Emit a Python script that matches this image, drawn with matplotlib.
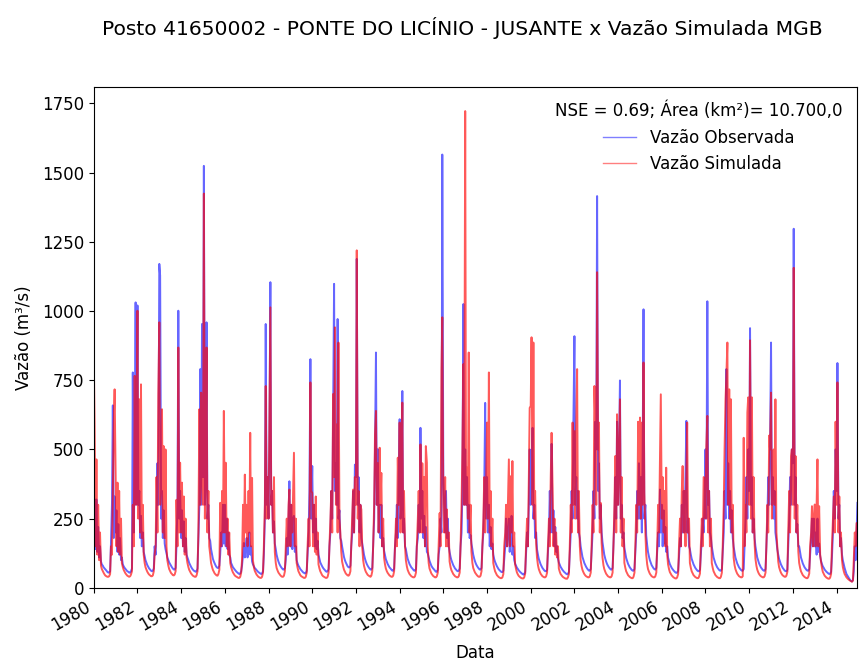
import pandas as pd
import matplotlib
matplotlib.use('Agg')
import matplotlib.pyplot as plt
import matplotlib.dates as mdates

ano_inicial = 1980

vazao_obs = [
    [190, 320, 140, 319, 130, 220, 110, 150, 95, 85, 80, 74, 70, 66, 62, 58, 55, 55, 60, 160, 307, 659, 180, 330],
    [200, 280, 130, 230, 120, 180, 100, 110, 85, 78, 72, 68, 64, 60, 58, 55, 55, 60, 70, 778, 200, 450, 1031, 300],
    [1020, 300, 350, 180, 260, 150, 200, 130, 115, 100, 90, 82, 76, 70, 66, 62, 60, 62, 70, 150, 120, 250, 450, 300],
    [1170, 1128, 250, 350, 180, 280, 160, 140, 125, 110, 100, 92, 86, 80, 74, 70, 66, 66, 72, 150, 300, 1001, 250, 350],
    [180, 280, 150, 240, 130, 180, 120, 110, 100, 90, 82, 76, 70, 66, 62, 60, 58, 60, 70, 180, 300, 790, 300, 953],
    [400, 1524, 300, 400, 959, 250, 300, 180, 170, 140, 120, 105, 95, 88, 80, 75, 72, 72, 80, 120, 200, 150, 300, 160],
    [300, 150, 250, 140, 200, 120, 110, 90, 82, 75, 70, 66, 62, 58, 55, 52, 50, 52, 60, 80, 120, 162, 110, 150],
    [180, 110, 170, 200, 120, 150, 95, 85, 78, 72, 68, 64, 60, 57, 54, 52, 50, 52, 60, 120, 250, 953, 300, 400],
    [250, 500, 1104, 300, 350, 200, 240, 160, 140, 120, 105, 95, 86, 80, 74, 70, 66, 66, 72, 100, 180, 120, 250, 385],
    [150, 300, 140, 250, 260, 130, 150, 100, 88, 80, 74, 68, 64, 60, 56, 54, 52, 54, 62, 120, 200, 350, 826, 250],
    [440, 200, 300, 150, 250, 140, 170, 120, 105, 92, 84, 78, 72, 68, 64, 60, 58, 60, 68, 150, 200, 350, 250, 600],
    [1098, 350, 450, 300, 971, 250, 280, 180, 170, 150, 130, 112, 100, 92, 84, 78, 74, 74, 80, 150, 200, 350, 200, 445],
    [400, 1188, 300, 400, 200, 300, 180, 160, 140, 120, 105, 95, 86, 80, 74, 70, 66, 66, 72, 150, 250, 500, 850, 300],
    [500, 200, 300, 180, 300, 150, 180, 135, 118, 104, 94, 86, 80, 74, 70, 66, 62, 62, 70, 150, 200, 300, 180, 400],
    [609, 250, 300, 711, 200, 250, 150, 140, 120, 105, 94, 86, 80, 74, 70, 66, 62, 62, 68, 150, 180, 300, 200, 578],
    [250, 350, 180, 260, 150, 220, 130, 125, 110, 98, 88, 80, 74, 70, 66, 62, 58, 58, 65, 120, 150, 250, 200, 1565],
    [400, 300, 200, 350, 180, 250, 150, 130, 112, 100, 90, 82, 76, 70, 66, 62, 60, 62, 70, 150, 200, 350, 1025, 300],
    [500, 300, 400, 200, 300, 180, 190, 160, 140, 120, 105, 95, 86, 80, 74, 70, 66, 66, 72, 150, 200, 350, 668, 250],
    [400, 200, 300, 150, 220, 140, 160, 120, 104, 94, 85, 78, 72, 67, 63, 60, 57, 57, 62, 100, 150, 250, 150, 200],
    [250, 130, 180, 260, 120, 150, 100, 88, 80, 73, 68, 63, 59, 56, 53, 50, 48, 50, 58, 120, 200, 150, 300, 500],
    [300, 400, 578, 250, 300, 180, 200, 140, 120, 105, 94, 85, 78, 72, 67, 63, 60, 60, 66, 130, 200, 350, 200, 520],
    [200, 280, 150, 220, 130, 150, 105, 92, 83, 76, 70, 65, 61, 57, 54, 51, 49, 51, 58, 120, 200, 350, 250, 600],
    [909, 300, 400, 250, 350, 200, 180, 150, 130, 112, 100, 90, 82, 76, 70, 66, 62, 62, 68, 130, 200, 350, 250, 600],
    [500, 1415, 350, 450, 250, 300, 200, 165, 140, 120, 105, 95, 86, 80, 74, 70, 66, 66, 72, 150, 250, 400, 250, 600],
    [300, 450, 749, 250, 300, 180, 200, 145, 125, 108, 96, 87, 80, 74, 69, 65, 62, 62, 68, 130, 200, 350, 250, 450],
    [250, 400, 200, 500, 1006, 250, 300, 190, 155, 130, 112, 100, 90, 82, 76, 71, 67, 66, 72, 130, 200, 150, 355, 200],
    [300, 150, 280, 160, 220, 130, 150, 110, 96, 86, 78, 72, 67, 63, 59, 56, 54, 55, 62, 110, 180, 150, 300, 200],
    [350, 200, 400, 603, 200, 250, 150, 140, 120, 105, 94, 85, 78, 72, 67, 63, 60, 60, 66, 120, 180, 250, 200, 300],
    [500, 250, 1035, 300, 350, 200, 180, 150, 128, 110, 98, 88, 80, 74, 69, 65, 62, 62, 68, 130, 200, 350, 250, 790],
    [300, 450, 250, 350, 200, 280, 180, 150, 128, 110, 98, 88, 80, 74, 69, 65, 62, 62, 68, 150, 250, 400, 250, 500],
    [350, 938, 300, 400, 200, 250, 180, 150, 128, 110, 98, 88, 80, 74, 69, 65, 62, 62, 68, 150, 250, 400, 300, 500],
    [886, 300, 400, 250, 350, 200, 170, 140, 120, 105, 94, 85, 78, 72, 67, 63, 60, 60, 66, 150, 250, 400, 300, 500],
    [450, 1297, 300, 400, 200, 230, 150, 150, 128, 110, 98, 88, 80, 74, 69, 65, 62, 62, 68, 120, 180, 250, 150, 250],
    [150, 200, 120, 250, 130, 160, 115, 98, 86, 78, 72, 66, 62, 58, 55, 52, 50, 51, 58, 110, 200, 350, 250, 500],
    [350, 812, 250, 300, 150, 180, 120, 100, 85, 72, 60, 50, 44, 38, 33, 28, 25, 23, 28, 60, 150, 100, 200, 307],
]

vazao_sim = [
    [844, 593, 150, 464, 120, 300, 100, 200, 80, 68, 60, 54, 48, 44, 42, 40, 40, 42, 50, 150, 120, 350, 597, 717],
    [400, 150, 380, 130, 350, 120, 250, 90, 75, 65, 58, 52, 48, 44, 42, 40, 42, 48, 60, 300, 150, 766, 300, 550],
    [1001, 250, 681, 200, 735, 180, 300, 120, 90, 75, 65, 58, 52, 48, 45, 42, 42, 45, 60, 120, 150, 400, 200, 700],
    [959, 300, 400, 645, 200, 512, 180, 500, 150, 100, 80, 68, 60, 54, 50, 46, 45, 48, 60, 318, 150, 868, 200, 452],
    [200, 380, 150, 330, 120, 250, 110, 90, 75, 65, 58, 52, 48, 44, 42, 40, 40, 45, 60, 200, 645, 300, 705, 400],
    [300, 1424, 250, 500, 868, 200, 350, 150, 120, 90, 75, 65, 58, 52, 48, 45, 44, 50, 65, 307, 150, 350, 200, 639],
    [200, 452, 150, 250, 120, 200, 90, 75, 64, 56, 50, 45, 42, 40, 38, 36, 36, 40, 55, 100, 300, 150, 409, 200],
    [300, 150, 350, 200, 560, 150, 397, 100, 75, 62, 54, 48, 44, 40, 38, 36, 36, 40, 55, 150, 300, 729, 250, 400],
    [250, 597, 1013, 300, 350, 200, 400, 130, 90, 72, 62, 55, 50, 46, 42, 40, 40, 44, 60, 150, 250, 150, 300, 355],
    [150, 300, 200, 350, 488, 150, 250, 90, 72, 60, 52, 46, 42, 40, 38, 36, 36, 40, 55, 150, 250, 150, 742, 350],
    [343, 150, 300, 130, 330, 120, 200, 85, 70, 60, 52, 46, 42, 40, 38, 36, 36, 40, 55, 150, 250, 350, 200, 700],
    [400, 941, 300, 590, 200, 886, 250, 200, 130, 95, 78, 66, 58, 52, 48, 45, 44, 48, 60, 150, 250, 355, 200, 400],
    [300, 1219, 250, 350, 150, 300, 283, 150, 100, 80, 66, 58, 52, 47, 44, 42, 40, 44, 60, 150, 300, 554, 639, 300],
    [450, 200, 506, 300, 415, 150, 250, 110, 85, 70, 60, 54, 49, 45, 42, 40, 40, 44, 60, 150, 250, 150, 470, 300],
    [597, 200, 400, 669, 200, 350, 150, 100, 78, 65, 56, 50, 46, 42, 40, 38, 38, 42, 55, 150, 250, 350, 200, 518],
    [200, 450, 200, 400, 150, 512, 452, 150, 90, 70, 60, 52, 47, 43, 40, 38, 38, 42, 55, 150, 270, 150, 790, 977],
    [300, 200, 400, 150, 283, 150, 200, 95, 75, 64, 56, 50, 46, 42, 40, 38, 38, 42, 55, 150, 300, 500, 808, 300],
    [1722, 300, 434, 250, 850, 200, 300, 130, 90, 72, 62, 55, 50, 46, 42, 40, 40, 44, 60, 150, 250, 400, 200, 350],
    [597, 250, 778, 200, 350, 150, 250, 90, 72, 60, 52, 46, 42, 39, 37, 35, 35, 38, 50, 150, 200, 300, 150, 300],
    [464, 150, 403, 200, 458, 150, 200, 85, 68, 56, 48, 43, 40, 37, 35, 34, 34, 38, 52, 150, 250, 150, 400, 650],
    [657, 905, 300, 886, 250, 350, 160, 110, 82, 68, 58, 51, 46, 42, 40, 38, 38, 42, 55, 150, 250, 150, 400, 560],
    [361, 150, 250, 120, 200, 110, 150, 70, 58, 50, 45, 41, 38, 36, 34, 33, 33, 38, 50, 150, 300, 200, 597, 300],
    [566, 250, 597, 790, 200, 350, 150, 100, 78, 65, 56, 50, 45, 42, 40, 38, 38, 42, 55, 150, 300, 200, 729, 597],
    [300, 1140, 500, 597, 200, 307, 160, 110, 82, 68, 58, 51, 46, 42, 40, 38, 38, 42, 55, 150, 300, 476, 200, 627],
    [300, 450, 681, 200, 400, 150, 250, 90, 72, 60, 52, 46, 42, 39, 37, 35, 35, 40, 55, 150, 300, 200, 600, 300],
    [615, 250, 597, 300, 814, 343, 200, 120, 85, 68, 58, 51, 46, 42, 40, 38, 38, 42, 55, 150, 300, 200, 470, 699],
    [250, 400, 200, 350, 150, 434, 120, 85, 68, 57, 50, 45, 41, 38, 36, 34, 34, 38, 50, 150, 250, 150, 350, 440],
    [200, 350, 150, 400, 597, 200, 250, 90, 72, 60, 52, 46, 42, 39, 37, 35, 35, 40, 52, 150, 250, 150, 400, 397],
    [250, 512, 621, 200, 350, 150, 250, 90, 72, 60, 52, 46, 42, 39, 37, 35, 35, 40, 55, 150, 300, 500, 681, 766],
    [886, 300, 717, 250, 681, 200, 300, 110, 82, 68, 58, 51, 46, 42, 40, 38, 38, 42, 542, 150, 300, 200, 633, 688],
    [300, 894, 250, 688, 200, 400, 160, 105, 80, 66, 56, 50, 45, 42, 40, 38, 38, 42, 55, 150, 300, 200, 550, 500],
    [705, 250, 476, 500, 300, 681, 200, 150, 95, 75, 63, 55, 49, 45, 42, 40, 40, 44, 58, 200, 350, 200, 476, 500],
    [300, 1156, 250, 476, 200, 300, 130, 90, 72, 60, 52, 46, 42, 39, 37, 35, 35, 40, 52, 150, 200, 295, 150, 250],
    [301, 150, 300, 464, 150, 295, 120, 95, 72, 58, 50, 44, 40, 37, 35, 33, 33, 37, 50, 150, 250, 330, 200, 600],
    [300, 742, 200, 330, 150, 200, 100, 75, 60, 50, 43, 38, 34, 31, 28, 26, 24, 22, 26, 100, 200, 150, 234, 234],
]

titulo = 'Posto 41650002 - PONTE DO LICÍNIO - JUSANTE x Vazão Simulada MGB'
nse = 0.69
area = '10.700,0'


def serie(linhas):
    datas, valores = [], []
    for i, linha in enumerate(linhas):
        datas.extend(pd.date_range(f'{ano_inicial + i}-01-01', periods=len(linha), freq='SMS'))
        valores.extend(linha)
    return pd.Series(valores, index=pd.DatetimeIndex(datas))


if __name__ == "__main__":
    obs = serie(vazao_obs)
    sim = serie(vazao_sim)

    plt.rcParams['font.size'] = 12

    fig = plt.figure(figsize=(8.6, 6.62), dpi=100)
    ax = fig.add_axes([0.109, 0.112, 0.888, 0.757])
    ax.plot(obs.index, obs.values, color='blue', lw=1.4, alpha=0.6, label='Vazão Observada')
    ax.plot(sim.index, sim.values, color='red', lw=1.4, alpha=0.65, label='Vazão Simulada')
    ax.set_xlim(obs.index[0], obs.index[-1])
    ax.set_ylim(0, 1810)
    ax.xaxis.set_major_locator(mdates.YearLocator(2))
    ax.xaxis.set_major_formatter(mdates.DateFormatter('%Y'))
    for lbl in ax.get_xticklabels():
        lbl.set_rotation(30)
        lbl.set_ha('right')
    ax.set_xlabel('Data', labelpad=7)
    ax.set_ylabel('Vazão (m³/s)', labelpad=6)
    leg = ax.legend(title=f'NSE = {nse}; Área (km²)= {area}', frameon=False, loc='upper right',
                    borderaxespad=0.5)
    for linha in leg.get_lines():
        linha.set_linewidth(1)
        linha.set_alpha(0.5)
    fig.suptitle(titulo, x=0.538, y=0.975, fontsize=14.6)
    fig.savefig('out.png', dpi=100)
